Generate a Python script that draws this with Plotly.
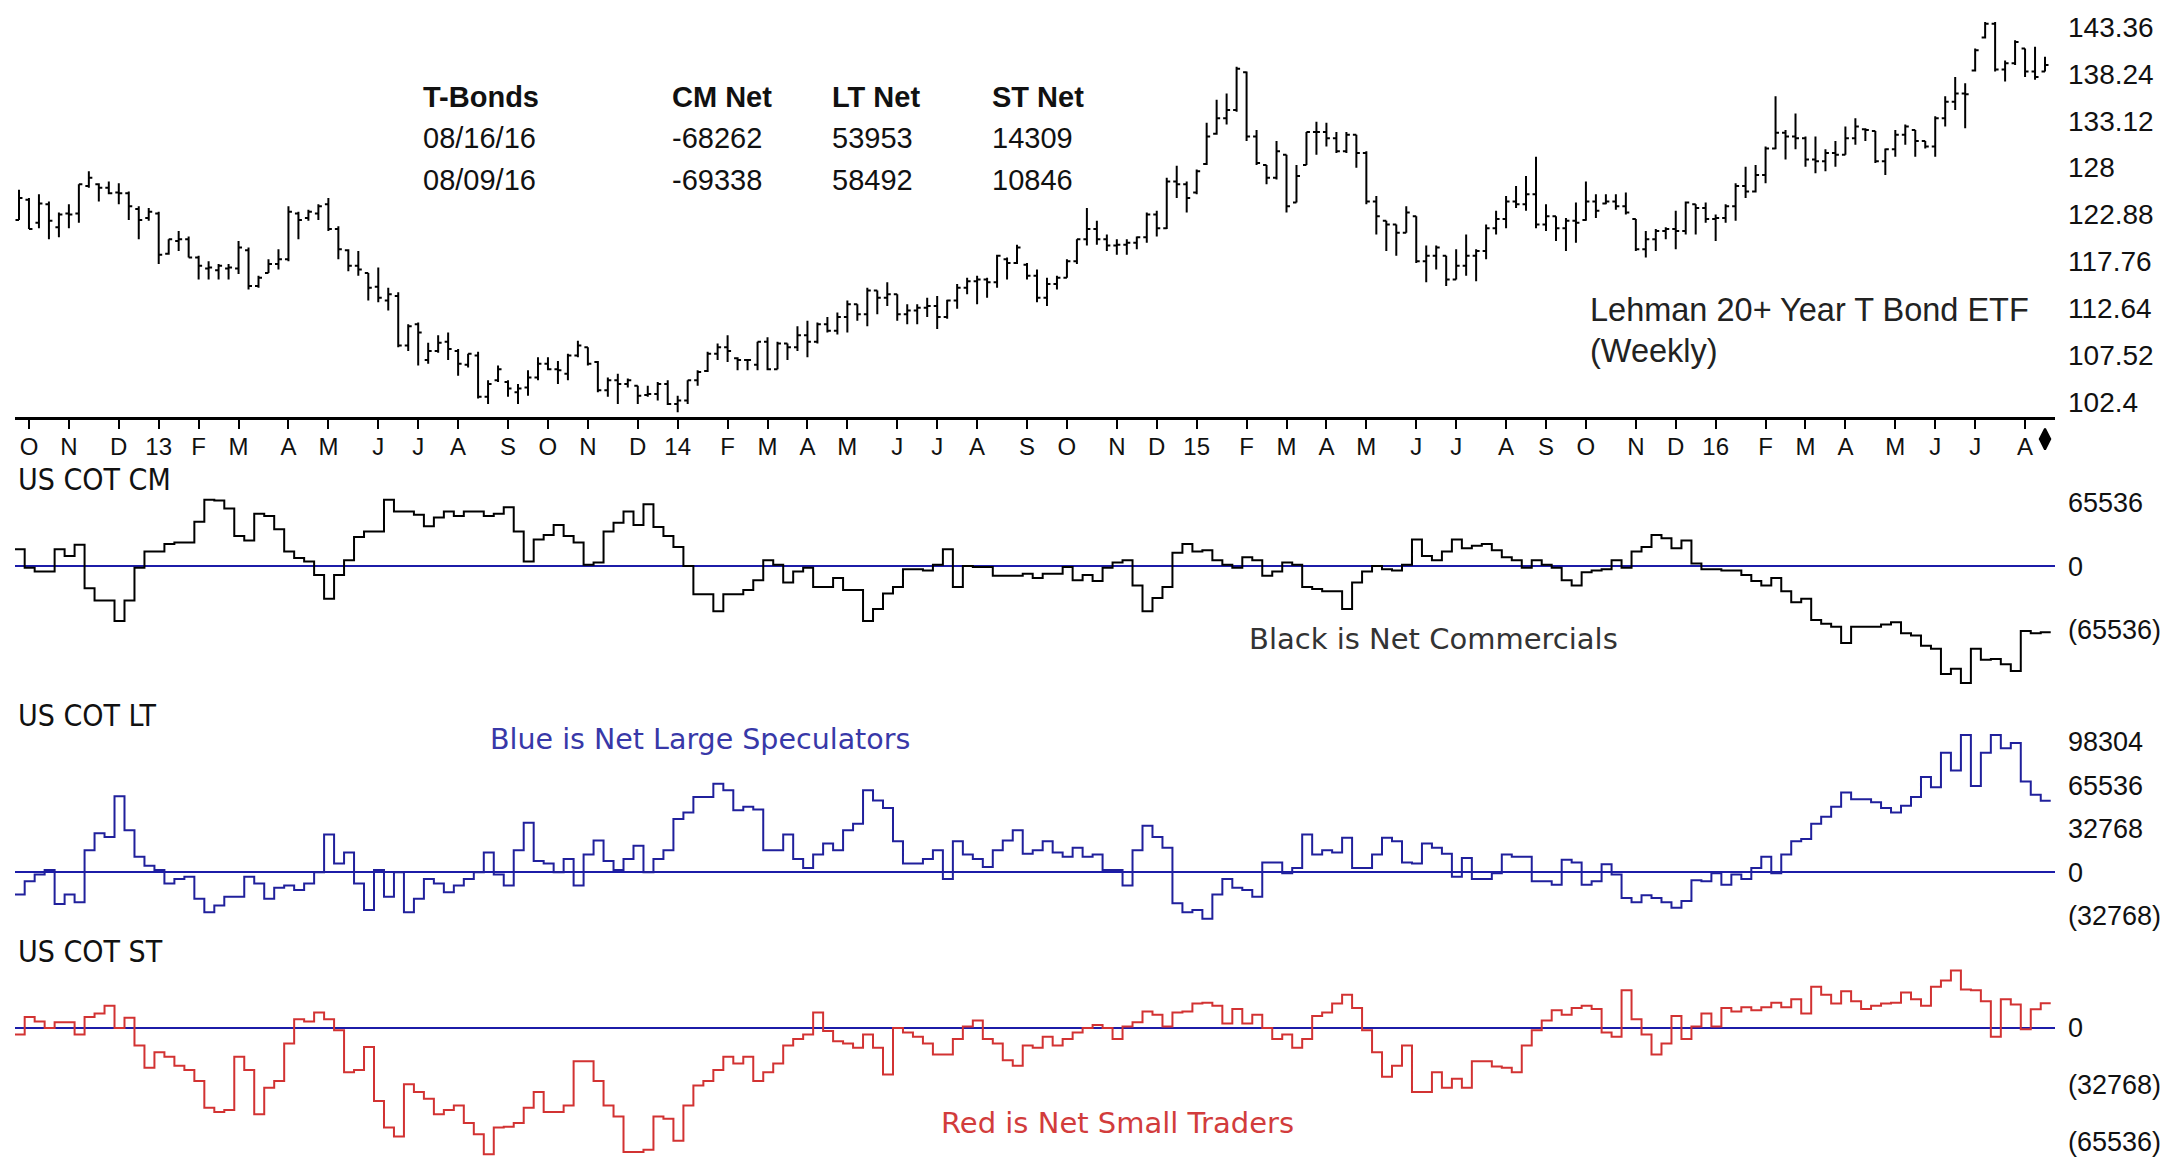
import pandas as pd
import plotly.graph_objects as go

W, H = 2172, 1167

# ---------------- data ----------------
BAR_START = "2012-09-28"   # first weekly price bar (Friday)
COT_START = "2012-09-25"   # first COT report date (Tuesday)

OPEN = [
    122.3, 124.5, 122.0, 124.0, 121.5, 123.0, 123.0, 126.0, 126.2, 125.8,
    125.3, 125.2, 123.5, 122.5, 123.0, 118.6, 120.0, 120.2, 118.2, 117.0,
    116.8, 117.0, 117.0, 119.0, 115.1, 116.5, 117.5, 118.0, 123.0, 122.5,
    123.0, 124.0, 121.3, 119.0, 117.3, 116.5, 115.0, 113.5, 114.0, 108.6,
    110.9, 107.0, 108.0, 109.0, 108.0, 106.5, 107.5, 103.0, 104.8, 104.6,
    103.5, 104.0, 105.1, 106.6, 106.0, 105.5, 107.5, 108.4, 106.8, 103.7,
    104.8, 104.4, 104.2, 103.2, 103.3, 104.4, 102.2, 102.6, 104.8, 105.8,
    107.7, 108.4, 107.2, 107.0, 106.5, 109.0, 106.0, 108.8, 108.4, 109.7,
    109.0, 110.9, 110.2, 111.7, 113.1, 112.0, 114.6, 113.8, 114.2, 112.0,
    112.4, 112.7, 112.9, 111.7, 113.5, 114.9, 115.6, 115.8, 115.5, 118.0,
    117.6, 117.4, 116.2, 113.8, 115.3, 116.0, 117.8, 120.2, 121.3, 120.2,
    119.5, 119.6, 119.8, 120.4, 122.9, 121.4, 126.5, 126.2, 125.3, 128.4,
    131.7, 133.4, 134.3, 138.4, 131.4, 128.3, 126.9, 129.4, 124.2, 128.3,
    131.9, 131.9, 131.2, 129.8, 131.6, 129.6, 124.3, 122.2, 121.8, 120.9,
    122.7, 117.8, 118.4, 118.4, 115.8, 117.3, 118.4, 118.9, 121.4, 122.4,
    124.3, 124.0, 125.1, 121.8, 122.7, 121.4, 122.2, 122.3, 124.3, 124.1,
    124.3, 123.8, 122.4, 119.1, 120.2, 121.1, 121.3, 121.1, 124.0, 123.6,
    122.4, 122.5, 123.8, 126.0, 125.4, 127.2, 130.1, 131.8, 131.4, 131.2,
    128.9, 128.7, 129.6, 129.4, 131.2, 132.2, 132.0, 128.7, 130.0, 131.6,
    132.1, 130.9, 130.3, 133.4, 135.2, 136.1, 138.6, 142.2, 143.7, 138.7,
    139.4, 141.0, 138.5, 138.5,
]
HIGH = [
    125.6, 124.7, 125.1, 124.3, 123.1, 124.0, 126.2, 127.6, 126.3, 126.5,
    126.3, 125.4, 123.8, 123.6, 123.2, 120.2, 121.1, 120.5, 118.4, 117.8,
    117.5, 117.5, 120.0, 119.3, 116.2, 118.0, 119.1, 123.8, 123.2, 123.4,
    124.0, 124.7, 121.6, 119.1, 118.9, 116.5, 117.1, 114.9, 114.4, 110.9,
    111.1, 108.9, 109.7, 110.0, 108.2, 107.7, 107.9, 104.8, 106.4, 104.8,
    104.4, 105.9, 107.3, 107.3, 106.9, 107.7, 109.1, 108.4, 106.9, 105.1,
    105.5, 105.0, 104.2, 104.2, 104.6, 104.8, 103.1, 104.8, 105.9, 107.9,
    108.8, 109.7, 107.3, 107.1, 109.0, 109.5, 109.0, 108.8, 110.7, 111.3,
    111.1, 111.7, 112.2, 113.5, 113.1, 114.9, 114.6, 115.5, 114.2, 113.1,
    113.1, 113.8, 114.0, 113.6, 115.3, 116.0, 116.2, 116.0, 118.5, 118.2,
    119.6, 117.6, 116.9, 116.0, 116.2, 118.0, 120.2, 123.6, 122.2, 120.7,
    120.2, 120.2, 120.5, 123.1, 123.3, 126.9, 128.2, 126.5, 127.8, 132.9,
    135.4, 136.1, 139.0, 138.5, 132.1, 128.3, 130.9, 129.4, 128.3, 131.9,
    133.0, 132.9, 131.9, 131.9, 131.6, 129.8, 124.9, 122.2, 121.8, 123.8,
    122.7, 119.5, 119.5, 118.4, 119.1, 120.7, 119.1, 121.8, 123.3, 124.9,
    126.0, 127.1, 129.2, 124.0, 122.7, 122.5, 124.2, 126.5, 125.1, 125.1,
    125.1, 125.3, 122.4, 121.1, 121.3, 121.5, 123.3, 124.3, 124.0, 124.2,
    122.9, 124.0, 126.3, 128.1, 128.3, 130.3, 135.8, 132.1, 133.9, 131.4,
    131.4, 130.0, 130.9, 132.5, 133.4, 132.3, 132.0, 130.1, 132.1, 132.7,
    132.1, 130.9, 133.6, 135.8, 137.9, 137.2, 141.0, 143.9, 143.9, 139.7,
    141.9, 141.0, 141.2, 140.1,
]
LOW = [
    122.3, 121.3, 121.4, 120.2, 120.4, 121.4, 122.0, 125.8, 124.3, 125.1,
    124.0, 122.3, 120.2, 122.2, 117.5, 118.5, 118.9, 118.2, 115.8, 115.8,
    115.8, 115.8, 116.4, 114.7, 114.9, 116.5, 116.9, 117.8, 120.2, 122.2,
    122.3, 121.1, 118.0, 116.7, 116.2, 113.5, 113.3, 112.4, 108.4, 108.0,
    106.4, 106.6, 107.8, 107.0, 105.3, 106.2, 102.8, 102.2, 104.6, 103.0,
    102.2, 103.1, 104.8, 105.9, 104.4, 104.8, 107.3, 106.4, 103.5, 103.0,
    102.2, 104.0, 102.2, 103.0, 102.6, 102.1, 101.3, 102.2, 104.2, 105.7,
    107.0, 106.8, 105.9, 105.9, 105.9, 105.9, 106.0, 107.0, 108.0, 107.3,
    108.8, 110.0, 109.8, 110.0, 111.3, 110.7, 112.0, 112.9, 111.3, 110.9,
    110.9, 111.7, 110.4, 111.5, 112.6, 114.2, 113.1, 113.8, 114.9, 115.8,
    117.5, 115.8, 113.3, 112.9, 114.7, 116.0, 117.5, 119.5, 119.6, 118.9,
    118.5, 118.5, 119.1, 119.8, 120.5, 121.3, 124.7, 123.1, 125.1, 128.3,
    131.6, 132.7, 134.1, 130.9, 128.3, 126.2, 126.7, 123.1, 124.2, 128.3,
    129.4, 130.3, 129.6, 129.6, 128.0, 124.0, 120.7, 118.9, 118.4, 120.9,
    117.6, 115.5, 116.9, 115.1, 115.8, 116.2, 115.6, 118.0, 120.7, 121.4,
    123.6, 123.3, 121.4, 121.1, 120.0, 118.9, 119.8, 122.2, 122.5, 124.0,
    123.4, 122.9, 118.9, 118.2, 118.9, 120.2, 119.1, 120.7, 120.7, 122.0,
    120.0, 122.0, 122.2, 124.7, 125.3, 126.3, 130.0, 128.9, 130.0, 128.1,
    127.4, 127.6, 128.1, 129.4, 130.5, 130.9, 128.5, 127.2, 129.2, 130.5,
    129.2, 130.1, 129.2, 132.5, 134.3, 132.3, 138.5, 142.1, 138.5, 137.4,
    139.2, 137.9, 137.6, 138.5,
]
CLOSE = [
    124.7, 121.3, 124.1, 122.2, 122.9, 122.9, 126.2, 126.9, 125.8, 125.2,
    125.2, 123.8, 122.3, 123.2, 118.5, 120.2, 120.2, 118.2, 117.3, 117.1,
    117.3, 117.1, 119.3, 115.1, 116.0, 117.5, 118.0, 123.2, 122.3, 123.2,
    123.8, 121.3, 119.1, 117.3, 116.9, 114.9, 113.8, 114.2, 108.6, 110.7,
    110.0, 108.0, 108.9, 108.2, 106.6, 107.7, 103.0, 104.4, 106.0, 103.9,
    103.9, 105.1, 106.6, 106.0, 105.9, 107.5, 108.6, 106.6, 103.7, 104.8,
    104.4, 104.8, 103.1, 103.3, 104.4, 102.2, 102.6, 104.8, 105.7, 107.7,
    108.4, 108.0, 107.0, 107.0, 109.0, 106.0, 108.8, 108.4, 109.7, 109.0,
    110.9, 110.2, 111.7, 113.1, 112.0, 114.6, 113.8, 114.2, 112.0, 112.4,
    112.7, 112.9, 111.7, 113.5, 114.9, 115.6, 115.8, 115.5, 118.4, 117.6,
    119.3, 116.2, 113.8, 115.3, 116.0, 117.8, 120.2, 121.3, 120.2, 119.5,
    119.6, 119.8, 120.4, 122.9, 121.4, 126.5, 126.2, 124.7, 127.6, 131.4,
    133.4, 134.3, 138.8, 131.4, 128.5, 126.9, 129.8, 123.8, 127.1, 131.9,
    131.9, 131.2, 129.8, 131.6, 129.6, 124.3, 122.7, 121.8, 120.9, 123.1,
    117.8, 118.4, 119.3, 115.8, 117.3, 118.4, 118.9, 121.4, 122.4, 124.3,
    124.0, 125.1, 121.8, 122.7, 121.4, 122.2, 122.0, 124.3, 123.3, 124.3,
    123.8, 123.1, 119.1, 120.2, 121.1, 121.3, 121.1, 124.2, 123.6, 122.4,
    122.5, 123.8, 126.0, 125.4, 127.2, 130.1, 131.8, 131.4, 131.2, 128.9,
    128.7, 129.6, 129.4, 131.2, 132.5, 132.1, 128.7, 130.0, 131.6, 132.5,
    130.9, 130.3, 133.4, 135.2, 136.1, 136.0, 140.8, 143.7, 138.7, 139.4,
    141.7, 138.5, 137.9, 139.2,
]

# COT net positions, thousands of contracts
CM_NET = [
    17.4, -1.8, -5.5, -5.5, 17.4, 10.5, 21.9, -22.8, -35.6, -35.6,
    -56.6, -35.6, -1.8, 15.1, 15.1, 22.8, 24.2, 24.2, 45.7, 68.5,
    67.6, 59.4, 31.1, 26.5, 53.9, 51.6, 37.9, 15.1, 8.2, 4.6,
    -9.1, -33.8, -9.1, 5.9, 30.1, 35.6, 35.6, 68.5, 56.2, 56.2,
    53.0, 41.1, 50.2, 56.2, 51.6, 56.2, 56.2, 51.6, 53.9, 60.7,
    35.6, 4.6, 27.4, 32.0, 42.5, 31.1, 24.2, 1.4, 3.7, 35.6,
    44.8, 56.2, 42.5, 63.9, 40.2, 31.1, 19.6, 0.0, -29.2, -29.2,
    -46.6, -29.2, -29.2, -24.7, -14.6, 5.9, 1.4, -16.9, -5.5, -1.8,
    -21.5, -21.5, -12.3, -24.7, -24.7, -56.6, -44.3, -28.3, -21.5, -3.2,
    -3.2, -4.6, 1.4, 17.4, -21.5, 0.0, -0.9, -0.9, -10.0, -10.0,
    -10.0, -7.8, -12.3, -7.8, -7.8, -0.9, -14.6, -9.1, -15.5, -1.8,
    3.7, 5.9, -20.1, -46.6, -32.9, -21.5, 13.7, 22.8, 15.1, 16.4,
    5.9, 1.4, -1.8, 9.1, 5.9, -10.0, -5.5, 3.7, 1.4, -21.5,
    -23.7, -26.0, -26.0, -44.3, -16.9, -5.5, 0.0, -3.2, -4.6, 1.4,
    27.4, 10.5, 5.9, 15.1, 27.4, 18.3, 21.0, 22.8, 16.4, 9.1,
    5.9, -1.8, 5.9, 1.4, -1.8, -14.6, -20.1, -6.4, -4.6, -3.2,
    5.9, -1.8, 15.1, 19.6, 32.0, 28.8, 18.3, 26.5, 2.7, -3.2,
    -3.2, -4.6, -4.6, -9.1, -15.5, -20.1, -12.3, -26.0, -37.4, -33.8,
    -55.7, -59.4, -62.6, -79.5, -62.6, -62.6, -62.6, -60.3, -58.0, -69.4,
    -71.7, -82.2, -85.4, -111.4, -106.0, -120.6, -85.4, -96.8, -95.9, -101.4,
    -108.2, -67.1, -69.338, -68.262,
]
LT_NET = [
    -16.7, -6.7, -1.7, 1.7, -24.0, -16.7, -22.7, 16.7, 29.4, 26.7,
    57.4, 31.7, 11.7, 5.0, 1.7, -8.4, -5.0, -3.3, -20.0, -30.1,
    -25.1, -18.4, -18.4, -3.3, -8.4, -20.0, -11.7, -10.0, -13.4, -8.4,
    0.0, 28.4, 6.7, 15.0, -8.4, -28.4, 1.7, -18.4, 0.0, -30.1,
    -20.0, -5.0, -8.4, -15.0, -10.0, -5.0, 0.0, 15.0, -1.7, -10.0,
    16.7, 37.4, 8.4, 6.7, 0.0, 10.0, -10.0, 13.4, 24.0, 8.4,
    1.7, 10.0, 20.0, 0.0, 10.0, 16.7, 40.1, 45.1, 56.8, 56.8,
    66.8, 61.8, 46.8, 49.4, 47.4, 16.7, 16.7, 28.4, 10.0, 3.3,
    13.4, 21.7, 16.7, 31.7, 36.7, 61.8, 54.1, 48.4, 23.4, 6.7,
    6.7, 10.0, 16.7, -5.0, 23.4, 13.4, 10.0, 4.0, 16.7, 24.0,
    31.7, 14.0, 16.7, 23.4, 15.0, 11.7, 18.4, 11.7, 13.4, 1.7,
    1.7, -10.0, 16.7, 35.1, 26.7, 18.4, -23.4, -30.1, -28.4, -35.1,
    -16.7, -5.0, -11.7, -13.4, -18.4, 7.3, 7.3, -0.7, 3.3, 28.4,
    13.4, 16.7, 15.0, 26.1, 3.3, 3.3, 13.4, 26.1, 23.4, 7.3,
    6.7, 21.7, 18.4, 14.0, -3.3, 10.7, -5.0, -5.0, -0.7, 13.4,
    11.7, 11.7, -6.7, -6.7, -9.4, 9.4, 7.3, -9.4, -6.7, 6.0,
    -1.7, -19.4, -22.7, -17.4, -19.4, -22.7, -26.7, -21.7, -6.0, -6.7,
    -0.7, -9.4, -1.7, -5.0, 3.3, 11.7, -0.7, 13.4, 23.4, 25.1,
    36.7, 41.8, 49.4, 60.1, 55.1, 55.1, 52.8, 48.4, 45.1, 50.1,
    56.8, 71.8, 64.1, 90.2, 76.8, 103.5, 65.1, 90.2, 103.5, 93.5,
    97.5, 68.5, 58.492, 53.953,
]
ST_NET = [
    -3.8, 6.4, 3.8, 0.0, 3.3, 3.3, -3.8, 6.4, 8.4, 12.8,
    0.0, 5.9, -10.2, -23.0, -14.1, -16.6, -21.8, -24.3, -30.7, -46.1,
    -48.6, -47.4, -16.6, -24.3, -49.9, -34.6, -30.7, -9.0, 5.1, 3.8,
    9.0, 5.1, -1.3, -25.6, -24.3, -11.0, -42.2, -57.6, -62.7, -32.5,
    -37.1, -41.0, -49.9, -47.4, -44.8, -55.0, -61.4, -73.0, -57.6, -57.1,
    -55.0, -46.1, -37.1, -48.6, -48.6, -44.8, -19.2, -19.2, -30.7, -44.8,
    -51.2, -71.7, -71.7, -70.4, -51.2, -52.5, -65.3, -44.8, -33.3, -30.7,
    -24.3, -16.6, -20.5, -16.6, -30.7, -25.6, -20.5, -10.2, -6.4, -3.8,
    9.0, -1.8, -7.7, -9.0, -11.5, -3.8, -11.5, -26.9, 0.0, -2.6,
    -5.1, -9.0, -15.4, -15.4, -6.4, 0.8, 4.4, -6.4, -9.0, -18.7,
    -21.8, -10.2, -11.5, -5.1, -10.2, -6.4, -2.6, 0.0, 1.8, 0.0,
    -6.4, 0.8, 3.3, 9.5, 7.7, 0.8, 9.0, 9.5, 14.1, 14.6,
    12.8, 2.6, 11.0, 2.6, 7.7, 0.0, -6.4, -3.8, -11.5, -6.4,
    6.9, 9.0, 14.1, 19.2, 11.5, -1.3, -14.1, -28.2, -21.8, -10.2,
    -37.1, -37.1, -25.6, -34.6, -29.4, -34.6, -19.2, -19.2, -22.3, -23.0,
    -25.6, -10.2, -1.3, 4.4, 10.2, 7.7, 11.5, 12.8, 11.0, -2.6,
    -5.1, 21.8, 5.1, -3.8, -15.4, -9.0, 6.9, -6.4, 0.8, 8.4,
    0.8, 11.5, 9.5, 12.0, 10.2, 12.0, 14.6, 12.0, 16.6, 8.4,
    23.8, 19.2, 14.1, 21.2, 15.4, 11.0, 12.8, 14.1, 14.6, 20.5,
    16.6, 12.8, 23.8, 27.4, 33.3, 22.3, 21.8, 15.4, -5.1, 16.6,
    13.6, -0.8, 10.846, 14.309,
]

MONTH_LABELS = (
    ["O", "N", "D"]
    + ["13", "F", "M", "A", "M", "J", "J", "A", "S", "O", "N", "D"]
    + ["14", "F", "M", "A", "M", "J", "J", "A", "S", "O", "N", "D"]
    + ["15", "F", "M", "A", "M", "J", "J", "A", "S", "O", "N", "D"]
    + ["16", "F", "M", "A", "M", "J", "J", "A"]
)
PRICE_TICKS = [102.4, 107.52, 112.64, 117.76, 122.88, 128, 133.12, 138.24, 143.36]
PRICE_TICK_TEXT = ["102.4", "107.52", "112.64", "117.76", "122.88", "128", "133.12", "138.24", "143.36"]
CM_TICKS = [65.536, 0, -65.536]
CM_TICK_TEXT = ["65536", "0", "(65536)"]
LT_TICKS = [98.304, 65.536, 32.768, 0, -32.768]
LT_TICK_TEXT = ["98304", "65536", "32768", "0", "(32768)"]
ST_TICKS = [0, -32.768, -65.536]
ST_TICK_TEXT = ["0", "(32768)", "(65536)"]

# ---------------- derived ----------------
bar_dates = pd.date_range(BAR_START, periods=len(CLOSE), freq="7D")
cot_dates = pd.date_range(COT_START, periods=len(CM_NET), freq="7D")
cot_x = list(cot_dates) + [cot_dates[-1] + pd.Timedelta(days=7)]

month_ticks = [d for i, d in enumerate(bar_dates) if i > 0 and d.month != bar_dates[i - 1].month]


def px(x):
    return x / W


def py(y):
    return 1 - y / H


SANS = "Liberation Sans, Arial, sans-serif"
NARROW = "Liberation Sans Narrow, Arial Narrow, DejaVu Sans Condensed, sans-serif"
VERD = "DejaVu Sans, Verdana, sans-serif"
ZERO_BLUE = "#1c1ca8"
LT_BLUE = "#20209c"
ST_RED = "#d23232"

fig = go.Figure()

fig.add_trace(go.Ohlc(
    x=bar_dates, open=OPEN, high=HIGH, low=LOW, close=CLOSE,
    increasing=dict(line=dict(color="black", width=2)),
    decreasing=dict(line=dict(color="black", width=2)),
    tickwidth=0.35, hoverinfo="skip", showlegend=False,
    xaxis="x", yaxis="y",
))

# marker at the latest bar, in a thin strip just under the date axis
fig.add_trace(go.Scatter(
    x=[bar_dates[-1]], y=[0.5], mode="markers",
    marker=dict(symbol="diamond-tall", size=15, color="black",
                line=dict(color="black", width=2)),
    cliponaxis=False, hoverinfo="skip", showlegend=False,
    xaxis="x", yaxis="y5",
))

for vals, color, yax in [(CM_NET, "black", "y2"), (LT_NET, LT_BLUE, "y3"), (ST_NET, ST_RED, "y4")]:
    fig.add_trace(go.Scatter(
        x=cot_x, y=list(vals) + [vals[-1]], mode="lines",
        line=dict(color=color, width=2, shape="hv"),
        hoverinfo="skip", showlegend=False, xaxis="x", yaxis=yax,
    ))

x_left, x_right = 15, 2055
common_y = dict(
    side="right", anchor="x", showgrid=False, showline=False, ticks="",
    ticklabelstandoff=12, tickfont=dict(family=SANS, size=27, color="#111"),
    fixedrange=True,
)

fig.update_layout(
    width=W, height=H,
    margin=dict(l=0, r=0, t=0, b=0),
    paper_bgcolor="white", plot_bgcolor="white",
    showlegend=False,
    xaxis=dict(
        domain=[px(x_left), px(x_right)],
        type="date",
        range=["2012-09-25 05:00", "2016-08-26"],
        anchor="y",
        showline=True, linecolor="black", linewidth=2.5,
        ticks="outside", ticklen=9, tickwidth=2, tickcolor="black",
        tickvals=month_ticks, ticktext=MONTH_LABELS,
        tickfont=dict(family=SANS, size=24, color="#111"),
        ticklabelstandoff=-3,
        showgrid=False, zeroline=False, fixedrange=True,
        rangeslider=dict(visible=False),
    ),
    yaxis=dict(
        domain=[py(417), py(5)], range=[100.77, 145.53],
        tickvals=PRICE_TICKS, ticktext=PRICE_TICK_TEXT, zeroline=False,
        **{**common_y, "tickfont": dict(family=SANS, size=28, color="#111")},
    ),
    yaxis2=dict(
        domain=[py(690), py(490)], range=[-126.9, 78.6],
        tickvals=CM_TICKS, ticktext=CM_TICK_TEXT,
        zeroline=True, zerolinecolor=ZERO_BLUE, zerolinewidth=2,
        **common_y,
    ),
    yaxis3=dict(
        domain=[py(930), py(725)], range=[-42.08, 111.97],
        tickvals=LT_TICKS, ticktext=LT_TICK_TEXT,
        zeroline=True, zerolinecolor=ZERO_BLUE, zerolinewidth=2,
        **common_y,
    ),
    yaxis4=dict(
        domain=[0, py(960)], range=[-78.68, 40.55],
        tickvals=ST_TICKS, ticktext=ST_TICK_TEXT,
        zeroline=True, zerolinecolor=ZERO_BLUE, zerolinewidth=2,
        **common_y,
    ),
    yaxis5=dict(
        domain=[py(452), py(426)], range=[0, 1], anchor="x",
        visible=False, showgrid=False, zeroline=False, fixedrange=True,
    ),
)


def note(text, x, y, size, family=SANS, color="#111", bold=False):
    if bold:
        text = "<b>" + text + "</b>"
    fig.add_annotation(
        text=text, x=px(x), y=py(y), xref="paper", yref="paper",
        xanchor="left", yanchor="middle", showarrow=False,
        font=dict(family=family, size=size, color=color),
    )


# header table built from the latest two COT reports
d_last = cot_dates[-1].strftime("%m/%d/%y")
d_prev = cot_dates[-2].strftime("%m/%d/%y")
cols = [("T-Bonds", 421), ("CM Net", 670), ("LT Net", 830), ("ST Net", 990)]
for name, x in cols:
    note(name, x, 95, 29, bold=True)
row1 = [d_last] + [str(round(v[-1] * 1000)) for v in (CM_NET, LT_NET, ST_NET)]
row2 = [d_prev] + [str(round(v[-2] * 1000)) for v in (CM_NET, LT_NET, ST_NET)]
for (name, x), t1, t2 in zip(cols, row1, row2):
    note(t1, x, 137, 29)
    note(t2, x, 179, 29)

note("Lehman 20+ Year T Bond ETF", 1588, 309, 32.5, color="#222")
note("(Weekly)", 1588, 350, 32.5, color="#222")

note("US COT CM", 16, 480, 30, family=NARROW)
note("US COT LT", 16, 717, 30, family=NARROW)
note("US COT ST", 16, 954, 30, family=NARROW)

note("Black is Net Commercials", 1247, 640, 29, family=VERD, color="#333")
note("Blue is Net Large Speculators", 488, 741, 28.5, family=VERD, color="#3838a8")
note("Red is Net Small Traders", 939, 1126, 29, family=VERD, color="#d23c3c")

fig.write_html(
    "out.html",
    config={"displayModeBar": False, "staticPlot": False},
    post_script="document.body.style.margin='0';document.body.style.padding='0';"
                "document.documentElement.style.overflow='hidden';",
)
